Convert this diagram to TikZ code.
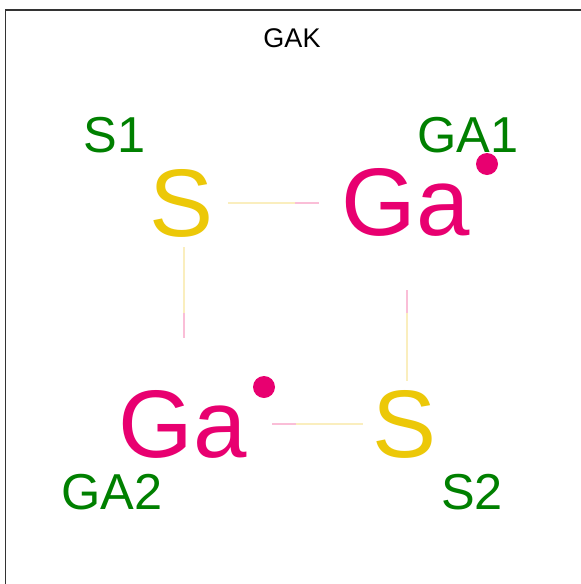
\documentclass[tikz,border=0pt]{standalone}
\usepackage{fontspec}
\setmainfont{Liberation Sans}
\definecolor{sYel}{RGB}{236,200,8}
\definecolor{gaPink}{RGB}{232,0,112}
\definecolor{lblGreen}{RGB}{0,128,0}
\definecolor{bYel}{RGB}{250,238,190}
\definecolor{bPink}{RGB}{250,190,215}
\begin{document}
\begin{tikzpicture}[x=1pt,y=-1pt,
  atom/.style={anchor=base,inner sep=0pt,font=\fontsize{96}{96}\selectfont},
  satom/.style={atom,text=sYel},
  gaatom/.style={atom,text=gaPink},
  lbl/.style={anchor=base,inner sep=0pt,text=lblGreen,font=\fontsize{50.5}{50.5}\selectfont},
  ybond/.style={draw=bYel,line width=1.6pt},
  pbond/.style={draw=bPink,line width=1.6pt},
  radical/.style={circle,fill=gaPink,inner sep=0pt,minimum size=22pt}]
\useasboundingbox (0,0) rectangle (581,584);
\fill[white] (0,0) rectangle (581,584);
\draw[line width=1.2pt,draw=black!80] (5.6,584) -- (5.6,10) -- (581,10);
% title
\node[anchor=base,inner sep=0pt,font=\fontsize{27}{27}\selectfont] (title) at (292,47) {GAK};
% atoms
\node[satom] (s1) at (182,236) {S};
\node[gaatom] (ga1) at (406,235) {Ga};
\node[gaatom] (ga2) at (183,457) {Ga};
\node[satom] (s2) at (405,457) {S};
% labels
\node[lbl] (ls1) at (114.5,152) {S1};
\node[lbl] (lga1) at (468,152) {GA1};
\node[lbl] (lga2) at (112,509) {GA2};
\node[lbl] (ls2) at (472,509) {S2};
% radicals
\node[radical] (r1) at (487,164) {};
\node[radical] (r2) at (264,387) {};
% bond coordinates
\coordinate (ta) at (228,203); \coordinate (tm) at (295,203); \coordinate (tb) at (319,203);
\coordinate (la) at (184,247); \coordinate (lm) at (184,313); \coordinate (lb) at (184,338);
\coordinate (ra) at (407,290); \coordinate (rm) at (407,313); \coordinate (rb) at (407,381);
\coordinate (ba) at (272,424); \coordinate (bm) at (296,424); \coordinate (bb) at (363,424);
% bonds
\draw[ybond] (ta) -- (tm); \draw[pbond] (tm) -- (tb);
\draw[ybond] (la) -- (lm); \draw[pbond] (lm) -- (lb);
\draw[pbond] (ra) -- (rm); \draw[ybond] (rm) -- (rb);
\draw[pbond] (ba) -- (bm); \draw[ybond] (bm) -- (bb);
\end{tikzpicture}
\end{document}
